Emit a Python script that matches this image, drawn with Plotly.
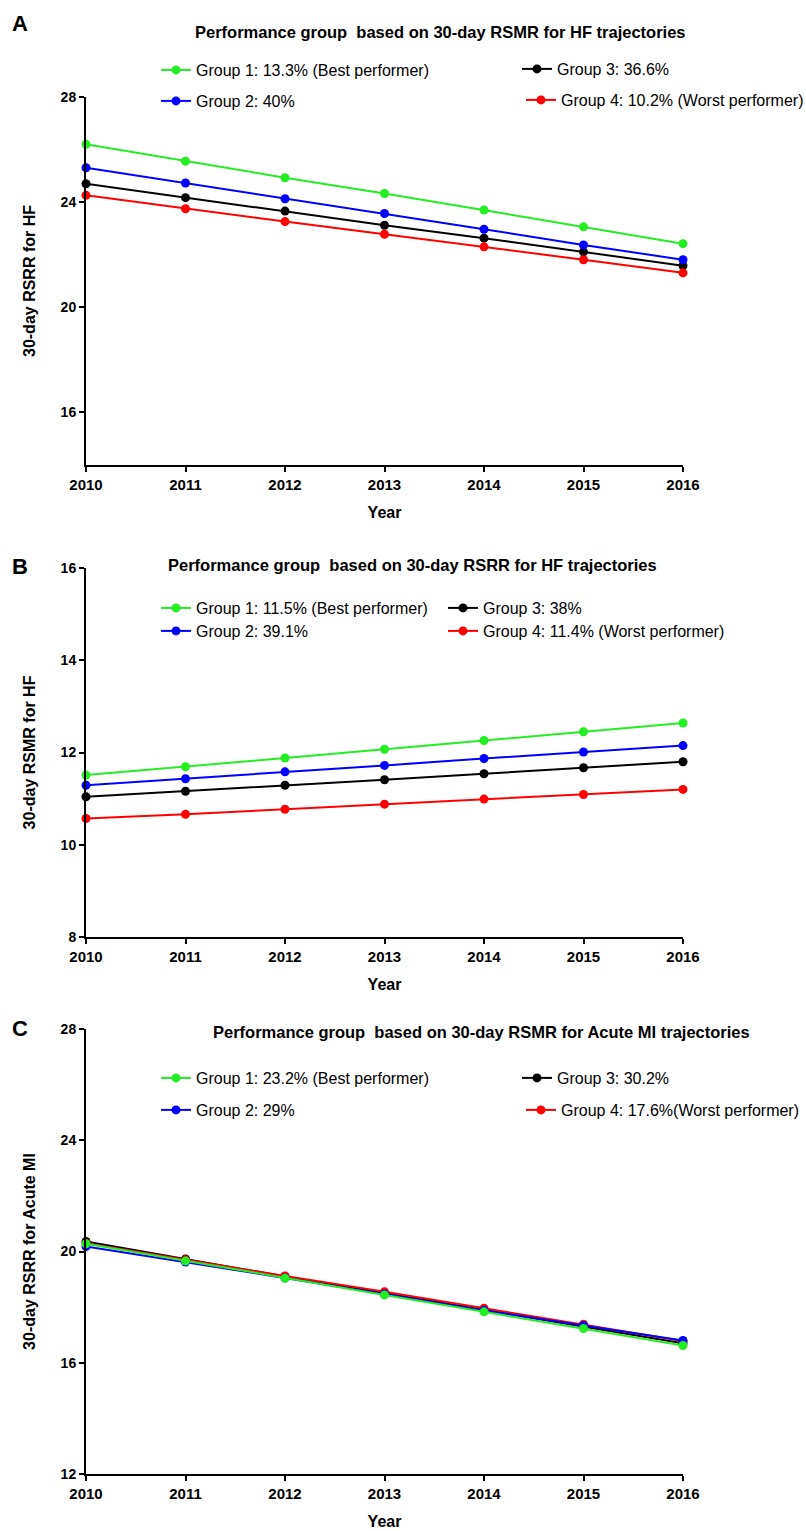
import plotly.graph_objects as go

# ---------------- data ----------------
years = [2010, 2011, 2012, 2013, 2014, 2015, 2016]

a_g1 = [26.20, 25.56, 24.93, 24.33, 23.70, 23.06, 22.42]
a_g2 = [25.31, 24.73, 24.13, 23.57, 22.97, 22.37, 21.81]
a_g3 = [24.70, 24.17, 23.66, 23.12, 22.63, 22.11, 21.58]
a_g4 = [24.26, 23.75, 23.26, 22.78, 22.30, 21.81, 21.31]

b_g1 = [11.51, 11.69, 11.88, 12.07, 12.26, 12.45, 12.64]
b_g2 = [11.29, 11.43, 11.58, 11.72, 11.87, 12.01, 12.15]
b_g3 = [11.04, 11.16, 11.29, 11.41, 11.54, 11.67, 11.80]
b_g4 = [10.57, 10.66, 10.77, 10.88, 10.99, 11.09, 11.20]

c_g1 = [20.28, 19.66, 19.04, 18.44, 17.83, 17.23, 16.62]
c_g2 = [20.18, 19.62, 19.05, 18.47, 17.88, 17.34, 16.80]
c_g3 = [20.36, 19.73, 19.10, 18.50, 17.90, 17.29, 16.70]
c_g4 = [20.30, 19.70, 19.12, 18.55, 17.96, 17.38, 16.78]

a_names = ["Group 1: 13.3% (Best performer)", "Group 2: 40%",
           "Group 3: 36.6%", "Group 4: 10.2% (Worst performer)"]
b_names = ["Group 1: 11.5% (Best performer)", "Group 2: 39.1%",
           "Group 3: 38%", "Group 4: 11.4% (Worst performer)"]
c_names = ["Group 1: 23.2% (Best performer)", "Group 2: 29%",
           "Group 3: 30.2%", "Group 4: 17.6%(Worst performer)"]

panel_titles = ["Performance group  based on 30-day RSMR for HF trajectories",
                "Performance group  based on 30-day RSRR for HF trajectories",
                "Performance group  based on 30-day RSMR for Acute MI trajectories"]
y_titles = ["30-day RSRR for HF", "30-day RSMR for HF", "30-day RSRR for Acute MI"]
panel_letters = ["A", "B", "C"]

a_ticks = [16, 20, 24, 28]
b_ticks = [8, 10, 12, 14, 16]
c_ticks = [12, 16, 20, 24, 28]

colors = ["#22EE22", "#0000FF", "#000000", "#FF0000"]

# ---------------- layout helpers ----------------
W, H = 806, 1531
def fx(px):
    return px / W
def fy(py):
    return 1 - py / H

SANS = "Liberation Sans, Arial, sans-serif"

fig = go.Figure()

# legend anchor (page px) for groups 1..4: (x of legend box, y of row centre)
panels = [
    dict(data=[a_g1, a_g2, a_g3, a_g4], names=a_names, ax="", ticks=a_ticks,
         yr=[14, 28], ydom=(465, 97),
         legpos=[(156, 70), (156, 101), (517, 69), (521, 100)]),
    dict(data=[b_g1, b_g2, b_g3, b_g4], names=b_names, ax="2", ticks=b_ticks,
         yr=[8, 16], ydom=(937, 568),
         legpos=[(156, 608), (156, 631), (443, 608), (443, 631)]),
    dict(data=[c_g1, c_g2, c_g3, c_g4], names=c_names, ax="3", ticks=c_ticks,
         yr=[12, 28], ydom=(1474, 1029),
         legpos=[(156, 1078), (156, 1110), (517, 1078), (521, 1110)]),
]

draw_order = [2, 3, 1, 0]
leg_counter = 0
legend_layouts = {}
for p in panels:
    leg_ids = {}
    for gi in range(4):
        leg_counter += 1
        lid = "legend" if leg_counter == 1 else "legend%d" % leg_counter
        leg_ids[gi] = lid
        lx, ly = p["legpos"][gi]
        legend_layouts[lid] = dict(
            orientation="h", x=fx(lx), xanchor="left",
            y=fy(ly), yanchor="middle",
            font=dict(family=SANS, size=16, color="black"),
            bgcolor="rgba(0,0,0,0)", itemwidth=30, itemclick=False,
        )
    for gi in draw_order:
        fig.add_trace(go.Scatter(
            x=years, y=p["data"][gi], name=p["names"][gi],
            mode="lines+markers",
            line=dict(color=colors[gi], width=2),
            marker=dict(color=colors[gi], size=9),
            xaxis="x" + p["ax"], yaxis="y" + p["ax"],
            legend=leg_ids[gi],
            cliponaxis=False,
        ))

layout = dict(
    width=W, height=H,
    margin=dict(l=0, r=0, t=0, b=0, autoexpand=False),
    paper_bgcolor="white", plot_bgcolor="white",
    showlegend=True,
    annotations=[],
)
layout.update(legend_layouts)

for i, p in enumerate(panels):
    xa = "xaxis" + p["ax"]
    ya = "yaxis" + p["ax"]
    layout[xa] = dict(
        domain=[fx(86), fx(683)], range=[2010, 2016],
        anchor="y" + p["ax"], automargin=False,
        tickvals=years, ticktext=[str(y) for y in years],
        showline=True, linecolor="black", linewidth=2,
        ticks="outside", ticklen=5, tickwidth=2, tickcolor="black",
        showgrid=False, zeroline=False,
        tickfont=dict(family=SANS, size=15, color="black", weight="bold"),
        title=dict(text="Year", standoff=15,
                   font=dict(family=SANS, size=16, color="black", weight="bold")),
    )
    layout[ya] = dict(
        domain=[fy(p["ydom"][0]), fy(p["ydom"][1])], range=p["yr"],
        anchor="x" + p["ax"], automargin=False,
        tickvals=p["ticks"],
        showline=True, linecolor="black", linewidth=2,
        ticks="outside", ticklen=5, tickwidth=2, tickcolor="black",
        showgrid=False, zeroline=False,
        tickfont=dict(family=SANS, size=14, color="black", weight="bold"),
        title=dict(text=y_titles[i], standoff=21,
                   font=dict(family=SANS, size=16, color="black", weight="bold")),
    )

title_pos = [(440, 32), (412, 565), (481, 1032)]
letter_pos = [(20, 23), (20, 567), (20, 1028)]
for i in range(3):
    layout["annotations"].append(dict(
        text=panel_titles[i], xref="paper", yref="paper",
        x=fx(title_pos[i][0]), y=fy(title_pos[i][1]),
        xanchor="center", yanchor="middle", showarrow=False,
        font=dict(family=SANS, size=16.5, color="black", weight="bold"),
    ))
    layout["annotations"].append(dict(
        text=panel_letters[i], xref="paper", yref="paper",
        x=fx(letter_pos[i][0]), y=fy(letter_pos[i][1]),
        xanchor="center", yanchor="middle", showarrow=False,
        font=dict(family=SANS, size=22, color="black", weight="bold"),
    ))

fig.update_layout(**layout)
fig.write_html("out.html", config={"displayModeBar": False},
               post_script="document.body.style.margin='0px';")
